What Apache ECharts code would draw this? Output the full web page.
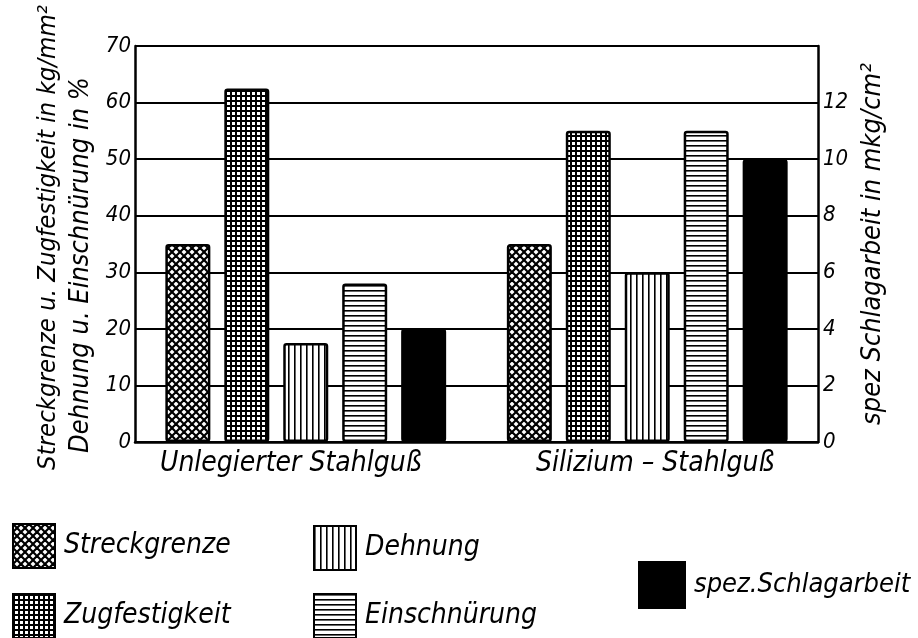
<!DOCTYPE html>
<html>
<head>
<meta charset="utf-8">
<script src="https://cdn.jsdelivr.net/npm/echarts@6/dist/echarts.min.js"></script>
<style>
html,body{margin:0;padding:0;background:#fff;}
#chart{width:918px;height:638px;}
</style>
</head>
<body>
<div id="chart"></div>
<script>
// ---- data ----
const categories = ['Unlegierter Stahlguß', 'Silizium – Stahlguß'];
const seriesNames = ['Streckgrenze', 'Zugfestigkeit', 'Dehnung', 'Einschnürung', 'spez.Schlagarbeit'];
const streckgrenze = [35, 35];
const zugfestigkeit = [62.5, 55];
const dehnung = [17.5, 30];
const einschnuerung = [28, 55];
const schlagarbeit = [4, 10]; // right axis, mkg/cm²
const leftAxis = { min: 0, max: 70, interval: 10 };
const rightAxis = { min: 0, max: 14, interval: 2, hiddenTop: 14 };
const leftAxisName1 = 'Streckgrenze u. Zugfestigkeit in kg/mm²';
const leftAxisName2 = 'Dehnung u. Einschnürung in %';
const rightAxisName = 'spez Schlagarbeit in mkg/cm²';

// ---- style ----
const FONT = '"DejaVu Sans Condensed", "DejaVu Sans", sans-serif';
const labelPad = [[0, 30, 0, 0], [0, 0, 0, 16]];
const legendPos = [[12, 523], [12, 593], [313, 525], [313, 593], [638, 561]];

function pattern(kind) {
  const c = document.createElement('canvas');
  const ctx = c.getContext('2d');
  if (kind === 'cross') {
    c.width = 8; c.height = 8;
    ctx.fillStyle = '#fff'; ctx.fillRect(0, 0, 8, 8);
    ctx.strokeStyle = '#000'; ctx.lineWidth = 2.2;
    for (const k of [-8, 0, 8]) {
      ctx.beginPath(); ctx.moveTo(k, 0); ctx.lineTo(k + 8, 8); ctx.stroke();
      ctx.beginPath(); ctx.moveTo(k, 8); ctx.lineTo(k + 8, 0); ctx.stroke();
    }
  } else if (kind === 'grid') {
    c.width = 5; c.height = 5;
    ctx.fillStyle = '#fff'; ctx.fillRect(0, 0, 5, 5);
    ctx.fillStyle = '#000'; ctx.fillRect(0, 0, 5, 2); ctx.fillRect(0, 0, 2, 5);
  } else if (kind === 'vert') {
    c.width = 6; c.height = 4;
    ctx.fillStyle = '#fff'; ctx.fillRect(0, 0, 6, 4);
    ctx.fillStyle = '#000'; ctx.fillRect(0, 0, 1.6, 4);
  } else if (kind === 'horiz') {
    c.width = 4; c.height = 5;
    ctx.fillStyle = '#fff'; ctx.fillRect(0, 0, 4, 5);
    ctx.fillStyle = '#000'; ctx.fillRect(0, 0, 4, 1.6);
  }
  return { image: c, repeat: 'repeat' };
}

const fills = [pattern('cross'), pattern('grid'), pattern('vert'), pattern('horiz'), '#000'];
const values = [streckgrenze, zugfestigkeit, dehnung, einschnuerung, schlagarbeit];

const chart = echarts.init(document.getElementById('chart'), null, { renderer: 'canvas' });

const baseText = { fontFamily: FONT, fontStyle: 'italic', color: '#000' };

const series = values.map((v, i) => ({
  name: seriesNames[i],
  type: 'bar',
  yAxisIndex: i === 4 ? 1 : 0,
  data: v,
  barWidth: 45,
  barGap: '31%',
  itemStyle: { color: fills[i], borderColor: '#000', borderWidth: 2.5, borderRadius: 2 },
  emphasis: { disabled: true },
  animation: false
}));

const legends = seriesNames.map((n, i) => ({
  left: legendPos[i][0],
  top: legendPos[i][1],
  data: [n],
  orient: 'horizontal',
  icon: 'rect',
  itemWidth: i === 4 ? 46 : 42,
  itemHeight: i === 4 ? 46 : 44,
  padding: 0,
  selectedMode: false,
  itemStyle: { borderColor: '#000', borderWidth: 2 },
  textStyle: Object.assign({ fontSize: i === 4 ? 27 : 28, padding: [0, 0, 0, 4] }, baseText)
}));

chart.setOption({
  animation: false,
  backgroundColor: '#fff',
  grid: { left: 135, right: 100, top: 46, bottom: 196, outerBoundsMode: 'none', containLabel: false },
  legend: legends,
  xAxis: {
    type: 'category',
    data: categories.map((c, i) => ({ value: c, textStyle: { padding: labelPad[i] } })),
    axisLine: { lineStyle: { color: '#000', width: 2.5 } },
    axisTick: { show: false },
    axisLabel: Object.assign({ fontSize: 28, margin: 8 }, baseText),
    splitLine: { show: false }
  },
  yAxis: [
    {
      type: 'value',
      min: leftAxis.min, max: leftAxis.max, interval: leftAxis.interval,
      axisLine: { show: true, lineStyle: { color: '#000', width: 2.5 } },
      axisTick: { show: false },
      axisLabel: Object.assign({ fontSize: 22, margin: 4 }, baseText),
      splitLine: { show: true, lineStyle: { color: '#000', width: 2 } },
      name: '{a|' + leftAxisName1 + '}\n{b|' + leftAxisName2 + '}',
      nameLocation: 'middle',
      nameRotate: 90,
      nameGap: 37,
      nameTextStyle: {
        rich: {
          a: Object.assign({ fontSize: 25.5, padding: [0, 0, 0, 13], lineHeight: 33 }, baseText),
          b: Object.assign({ fontSize: 27, padding: [0, 42, 0, 0], lineHeight: 33 }, baseText)
        }
      }
    },
    {
      type: 'value',
      position: 'right',
      min: rightAxis.min, max: rightAxis.max, interval: rightAxis.interval,
      axisLine: { show: true, lineStyle: { color: '#000', width: 2.5 } },
      axisTick: { show: false },
      axisLabel: Object.assign({ fontSize: 22, margin: 5, formatter: v => v === rightAxis.hiddenTop ? '' : String(v) }, baseText),
      splitLine: { show: false },
      name: rightAxisName,
      nameLocation: 'middle',
      nameRotate: 90,
      nameGap: 32,
      nameTextStyle: Object.assign({ fontSize: 27 }, baseText)
    }
  ],
  series: series
});
</script>
</body>
</html>
